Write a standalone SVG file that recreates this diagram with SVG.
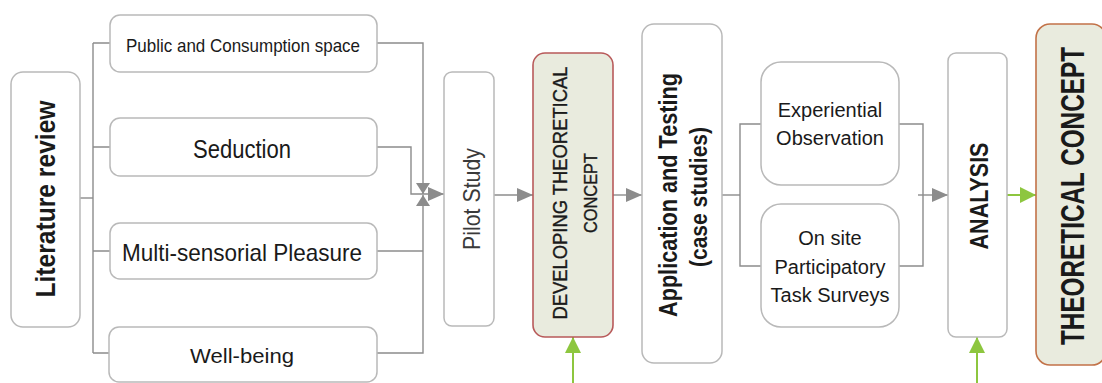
<svg xmlns="http://www.w3.org/2000/svg" width="1102" height="383" viewBox="0 0 1102 383">
  <defs>
    <style>
      .box { fill: #ffffff; stroke: #b9b9b9; stroke-width: 1.5; }
      .hl { fill: #e9ebde; stroke-width: 1.6; }
      .wire { fill: none; stroke: #8c8c8c; stroke-width: 1.4; }
      .go { fill: none; stroke: #8dc63f; stroke-width: 2; }
      .t { font-family: "Liberation Sans", Arial, sans-serif; fill: #1a1a1a; }
      .b { font-weight: bold; }
      .c { text-anchor: middle; }
      .heavy { stroke: #1a1a1a; stroke-width: 0.35; }
    </style>
    <marker id="arrow" viewBox="0 0 16 14" refX="16" refY="7" markerWidth="16" markerHeight="14" markerUnits="userSpaceOnUse" orient="auto">
      <path d="M0,0 L16,7 L0,14 z" fill="#8c8c8c"/>
    </marker>
    <marker id="tip" viewBox="0 0 11 14" refX="11" refY="7" markerWidth="11" markerHeight="14" markerUnits="userSpaceOnUse" orient="auto">
      <path d="M0,0 L11,7 L0,14 z" fill="#8c8c8c"/>
    </marker>
    <marker id="garrow" viewBox="0 0 16 16" refX="16" refY="8" markerWidth="16" markerHeight="16" markerUnits="userSpaceOnUse" orient="auto">
      <path d="M0,0 L16,8 L0,16 z" fill="#8dc63f"/>
    </marker>
  </defs>

  <!-- connectors -->
  <g id="connectors">
    <!-- literature review fan-out -->
    <path class="wire" d="M80,198 H93"/>
    <path class="wire" d="M93,43 V353"/>
    <path class="wire" d="M93,43 H110 M93,147 H110 M93,251 H110 M93,353 H110"/>
    <!-- merge into pilot study -->
    <path class="wire" d="M377,43 H423 V194" marker-end="url(#tip)"/>
    <path class="wire" d="M377,353 H423 V195" marker-end="url(#tip)"/>
    <path class="wire" d="M377,251 H423"/>
    <path class="wire" d="M377,147 H411 V194 H444" marker-end="url(#arrow)"/>
    <!-- main flow -->
    <path class="wire" d="M494,195 H533" marker-end="url(#arrow)"/>
    <path class="wire" d="M613,195 H642" marker-end="url(#arrow)"/>
    <!-- case studies split -->
    <path class="wire" d="M722,195 H740"/>
    <path class="wire" d="M761,124 H740 V266 H761"/>
    <path class="wire" d="M899,124 H923 V266 H899"/>
    <path class="wire" d="M918,195 H948" marker-end="url(#arrow)"/>
    <!-- feedback inputs -->
    <path class="go" d="M1007,195 H1036" marker-end="url(#garrow)"/>
    <path class="go" d="M573,383 V337" marker-end="url(#garrow)"/>
    <path class="go" d="M977,383 V337" marker-end="url(#garrow)"/>
  </g>

  <g id="literature-review">
    <rect class="box" x="11" y="72" width="69" height="255" rx="12"/>
    <text class="t b c" font-size="27" textLength="197" lengthAdjust="spacingAndGlyphs" transform="translate(55,199) rotate(-90)">Literature review</text>
  </g>

  <g id="public-consumption">
    <rect class="box" x="110" y="15" width="267" height="57" rx="10"/>
    <text class="t c" x="243" y="52" font-size="19" textLength="234" lengthAdjust="spacingAndGlyphs">Public and Consumption space</text>
  </g>

  <g id="seduction">
    <rect class="box" x="110" y="118" width="267" height="58" rx="10"/>
    <text class="t c" x="242" y="158" font-size="26" textLength="98" lengthAdjust="spacingAndGlyphs">Seduction</text>
  </g>

  <g id="multi-sensorial">
    <rect class="box" x="110" y="223" width="267" height="56" rx="10"/>
    <text class="t c" x="242" y="261" font-size="24" textLength="240" lengthAdjust="spacingAndGlyphs">Multi-sensorial Pleasure</text>
  </g>

  <g id="well-being">
    <rect class="box" x="109" y="327" width="268" height="55" rx="10"/>
    <text class="t c" x="242" y="363" font-size="21" textLength="104" lengthAdjust="spacingAndGlyphs">Well-being</text>
  </g>

  <g id="pilot-study">
    <rect class="box" x="444" y="72" width="50" height="254" rx="8"/>
    <text class="t c" font-size="24" textLength="102" lengthAdjust="spacingAndGlyphs" transform="translate(480,199) rotate(-90)" style="fill:#3a3a3a">Pilot Study</text>
  </g>

  <g id="developing-concept">
    <rect class="hl" x="533" y="53" width="80" height="284" rx="12" stroke="#b85a5a"/>
    <text class="t c heavy" font-size="20" textLength="253" lengthAdjust="spacingAndGlyphs" transform="translate(567,193) rotate(-90)">DEVELOPING THEORETICAL</text>
    <text class="t c heavy" font-size="19" textLength="80" lengthAdjust="spacingAndGlyphs" transform="translate(597,193) rotate(-90)">CONCEPT</text>
  </g>

  <g id="application-testing">
    <rect class="box" x="642" y="24" width="80" height="339" rx="12"/>
    <text class="t b c" font-size="25" textLength="244" lengthAdjust="spacingAndGlyphs" transform="translate(677,195) rotate(-90)">Application and Testing</text>
    <text class="t b c" font-size="23" textLength="140" lengthAdjust="spacingAndGlyphs" transform="translate(707,197) rotate(-90)">(case studies)</text>
  </g>

  <g id="experiential-observation">
    <rect class="box" x="761" y="62" width="138" height="123" rx="20"/>
    <text class="t c" x="830" y="117" font-size="20">Experiential</text>
    <text class="t c" x="830" y="145" font-size="20">Observation</text>
  </g>

  <g id="participatory-surveys">
    <rect class="box" x="761" y="204" width="138" height="123" rx="20"/>
    <text class="t c" x="830" y="245" font-size="20">On site</text>
    <text class="t c" x="830" y="274" font-size="20">Participatory</text>
    <text class="t c" x="830" y="302" font-size="20">Task Surveys</text>
  </g>

  <g id="analysis">
    <rect class="box" x="948" y="53" width="59" height="284" rx="8"/>
    <text class="t b c" font-size="26" textLength="107" lengthAdjust="spacingAndGlyphs" transform="translate(988,196) rotate(-90)">ANALYSIS</text>
  </g>

  <g id="theoretical-concept">
    <rect class="hl" x="1036" y="24" width="70" height="341" rx="14" stroke="#c27248"/>
    <text class="t b c" font-size="33" textLength="298" lengthAdjust="spacingAndGlyphs" transform="translate(1084,196) rotate(-90)">THEORETICAL CONCEPT</text>
  </g>
</svg>
